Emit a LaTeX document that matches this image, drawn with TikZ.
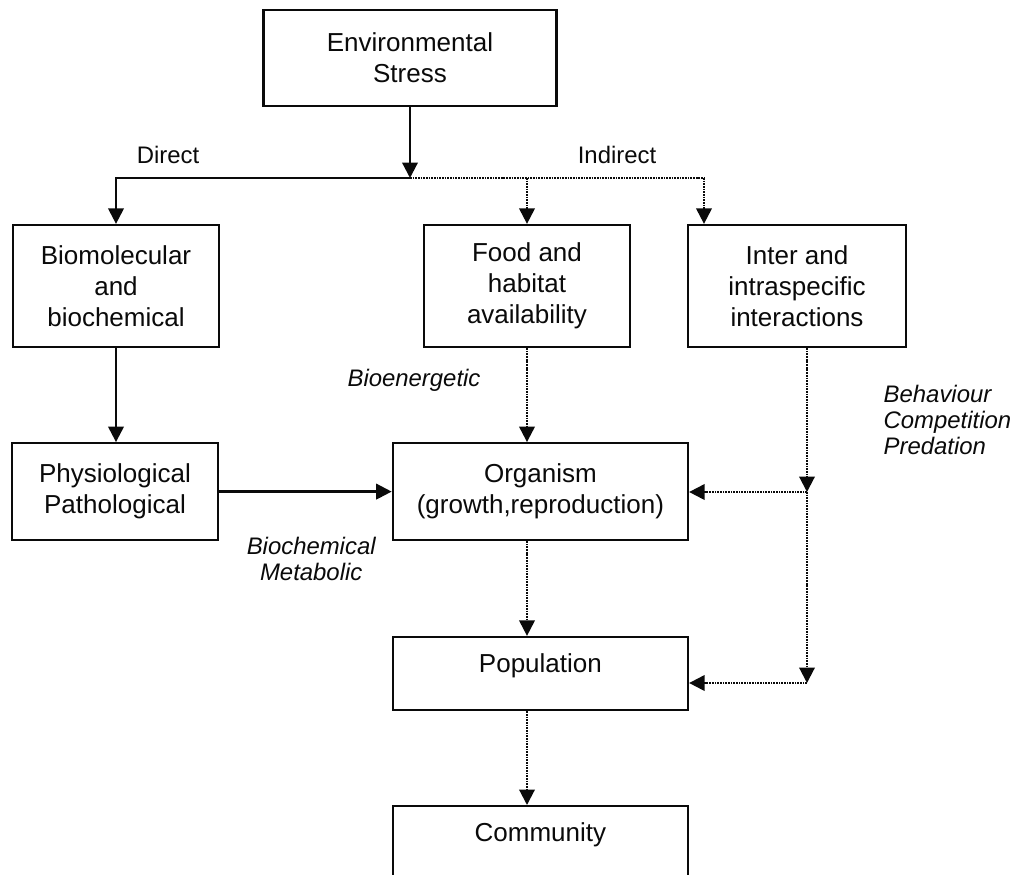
\documentclass[tikz,border=0pt]{standalone}
\usepackage{fontspec}
\setmainfont{Liberation Sans}
\usepackage{tikz}
\usetikzlibrary{arrows.meta,positioning,calc}
\definecolor{inkblack}{RGB}{10,10,10}
\tikzset{
  base/.style={font=\fontsize{18.5}{22}\selectfont, align=center, inner sep=3pt, text=inkblack},
  box/.style={base, rectangle, draw=inkblack, fill=white, line width=1.6pt, minimum width=5.15cm, minimum height=3.05cm},
  flat/.style={box, minimum height=2.42cm},
  topbox/.style={box, inner sep=0pt, text height=0.88cm, text depth=0.95cm, minimum height=1.83cm},
  lbl/.style={font=\fontsize{17}{18.5}\selectfont\itshape, align=center, text=inkblack, inner sep=1pt},
  tag/.style={font=\fontsize{17}{18.5}\selectfont, text=inkblack, inner sep=1pt},
  arr/.style={-{Triangle[length=11pt,width=11pt]}, line width=1.6pt, draw=inkblack},
  dotln/.style={line width=1.5pt, draw=inkblack, dash pattern=on 1.2pt off 0.7pt},
  arrd/.style={arr, dotln},
}
\begin{document}
\begin{tikzpicture}
  \useasboundingbox (0,0) rectangle (25.625,-21.875);
  \clip (0,0) rectangle (25.625,-21.875);
  \node[box,minimum width=7.33cm,minimum height=2.4cm] (env) at (10.25,-1.45) {Environmental\\Stress};
  \node[box] (bio)   at (2.9,-7.15)    {Biomolecular\\and\\biochemical};
  \node[box] (food)  at (13.175,-7.15) {Food and\\habitat\\availability};
  \node[box,minimum width=5.45cm] (inter) at (19.925,-7.15) {Inter and\\intraspecific\\interactions};
  \node[flat] (phy)  at (2.875,-12.29) {Physiological\\Pathological};
  \node[flat,minimum width=7.38cm] (org) at (13.51,-12.29) {Organism\\(growth,reproduction)};
  \node[topbox,minimum width=7.38cm] (pop) at (13.51,-16.84) {Population};
  \node[topbox,minimum width=7.38cm,text depth=2cm,anchor=north] (com) at (13.51,-20.125) {Community};
  % labels
  \node[tag] (ldir) at (4.2,-3.875)   {Direct};
  \node[tag] (lind) at (15.425,-3.875) {Indirect};
  \node[lbl] (lbio) at (10.35,-9.5)   {Bioenergetic};
  \node[lbl] (lmet) at (7.78,-13.975) {Biochemical\\Metabolic};
  \node[lbl,align=left,anchor=west] (lbeh) at (22.05,-10.5) {Behaviour\\Competition\\Predation};
  % junctions
  \coordinate (jn) at (10.25,-4.45);
  \coordinate (ji) at (17.6,-4.45);
  \coordinate (rk1) at (20.175,-12.3);
  \coordinate (rk2) at (20.175,-17.075);
  % direct path
  \draw[arr] (env.south) -- (jn);
  \draw[arr] (jn) -| (bio.north);
  \draw[arr] (bio.south) -- (bio.south |- phy.north);
  \draw[arr] (phy) -- (org);
  % indirect path
  \draw[dotln] (jn) -- (ji);
  \draw[arrd] (food.north |- jn) -- (food.north);
  \draw[arrd] (ji) -- (ji |- inter.north);
  \draw[arrd] (food.south) -- (food.south |- org.north);
  \foreach \a/\b in {org/pop,pop/com}{\draw[arrd] (\a.south -| food) -- (\b.north -| food);}
  \draw[arrd] (inter.south -| rk1) -- (rk1);
  \draw[arrd] (rk1) -- (rk2);
  \draw[arrd] (rk1) -- (org.east |- rk1);
  \draw[arrd] (rk2) -- (pop.east |- rk2);
\end{tikzpicture}
\end{document}
